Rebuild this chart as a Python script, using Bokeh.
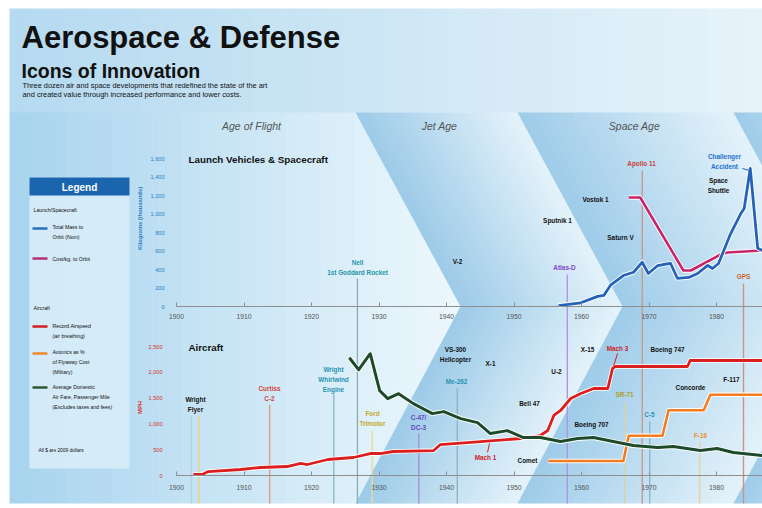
import numpy as np
from bokeh.plotting import figure
from bokeh.models import Range1d, LinearAxis, FixedTicker, NumeralTickFormatter
from bokeh.core.properties import value
from bokeh.embed import file_html
from bokeh.resources import INLINE

# ===================== DATA =====================
decade_ticks = [1900, 1910, 1920, 1930, 1940, 1950, 1960, 1970, 1980]
kg_ticks = [0, 200, 400, 600, 800, 1000, 1200, 1400, 1600]
mph_ticks = [0, 500, 1000, 1500, 2000, 2500]

# Launch vehicles & spacecraft (kilograms, thousands)
mass_years = [1956.6, 1959.9, 1962.4, 1963.3, 1964.3, 1966.2, 1967.7, 1969.0, 1969.9,
              1971.3, 1972.1, 1973.2, 1974.2, 1975.9, 1977.2, 1978.7, 1979.4, 1980.3,
              1982.1, 1983.6, 1984.1, 1985.0, 1986.1, 1986.8]
mass_kg = [10, 40, 110, 120, 230, 335, 370, 478, 357,
           443, 454, 465, 305, 314, 357, 445, 411, 465,
           789, 1005, 1059, 1492, 630, 605]
cost_years = [1967.0, 1968.7, 1975.1, 1976.2, 1980.6, 1981.6, 1986.8]
cost_kg = [1178, 1178, 389, 389, 562, 584, 605]

# Aircraft (MPH axis)
speed_years = [1902.5, 1903.9, 1904.7, 1909.5, 1912.4, 1916.4, 1918.4, 1919.4, 1922.4,
               1926.2, 1928.7, 1930.2, 1932.1, 1938.1, 1939.1, 1943.6, 1951.0, 1953.9,
               1955.0, 1955.9, 1956.9, 1958.4, 1959.9, 1961.8, 1963.9, 1964.6, 1965.0,
               1975.7, 1976.1, 1986.8]
speed_mph = [20, 25, 77, 116, 155, 174, 233, 213, 310,
             349, 426, 426, 465, 484, 600, 640, 717, 775,
             872, 1163, 1260, 1492, 1589, 1686, 1686, 2074, 2112,
             2112, 2229, 2229]
fare_years = [1925.6, 1927.0, 1928.7, 1930.1, 1931.3, 1932.9, 1935.1, 1937.9, 1939.6,
              1942.1, 1944.6, 1946.5, 1949.0, 1951.4, 1953.9, 1956.9, 1959.4, 1961.8,
              1964.7, 1967.7, 1971.3, 1973.6, 1977.6, 1980.1, 1982.5, 1986.8]
fare_vals = [2282, 2050, 2360, 1644, 1490, 1586, 1393, 1199, 1238,
             1103, 1025, 812, 870, 735, 735, 658, 716, 735,
             658, 580, 542, 561, 484, 522, 445, 387]
avionics_years = [1955.1, 1966.2, 1967.0, 1972.0, 1972.9, 1978.1, 1979.1, 1986.8]
avionics_vals = [280, 280, 770, 770, 1265, 1265, 1565, 1565]

# Milestones with a marker line
space_events = ["Nell\n1st Goddard Rocket", "Atlas-D", "Apollo 11", "GPS"]
space_event_years = [1926.8, 1957.9, 1969.0, 1984.0]
air_events = ["Wright\nFlyer", "", "Curtiss\nC-2", "Wright\nWhirlwind\nEngine", "Ford\nTrimotor",
              "C-47/\nDC-3", "Me-262", "SR-71", "C-5", "F-16"]
air_event_years = [1903.3, 1902.2, 1913.8, 1923.3, 1929.0, 1935.9, 1941.6, 1966.4, 1970.1, 1977.5]

# Milestones shown as labels only
space_notes = ["V-2", "Sputnik 1", "Vostok 1", "Saturn V", "Space\nShuttle", "Challenger\nAccident"]
air_notes = ["VS-300\nHelicopter", "X-1", "Bell 47", "U-2", "X-15", "Mach 3", "Boeing 747",
             "Boeing 707", "Mach 1", "Comet", "Concorde", "F-117"]

eras = ["Age of Flight", "Jet Age", "Space Age"]

# ===================== LAYOUT / STYLE =====================
FONT_NAME = "Liberation Sans"
FONT = value(FONT_NAME)
W, H = 762, 504
L, R, T, B = 0, W, 0, H                  # frame in page pixels
CL, CT, CB = 9, 8, 503                   # picture content edges
X1900, PX_PER_YEAR = 176.0, 6.75
Y_KG0, KG_PER_PX = 306.0, 1600 / 148.0
Y_MPH0, MPH_PER_PX = 475.0, 2500 / 129.0
LBL = "6.4px"


def yr(px):
    return 1900 + (px - X1900) / PX_PER_YEAR


p = figure(width=W, height=H, x_range=Range1d(yr(L), yr(R)), y_range=Range1d(B, T),
           x_axis_type=None, y_axis_type=None, toolbar_location=None,
           output_backend="svg", min_border=0, outline_line_color=None,
           background_fill_color="white", border_fill_color="white")
p.extra_x_ranges = {"sx": Range1d(L, R)}
p.extra_y_ranges = {
    "kg": Range1d((Y_KG0 - B) * KG_PER_PX, (Y_KG0 - T) * KG_PER_PX),
    "mph": Range1d((Y_MPH0 - B) * MPH_PER_PX, (Y_MPH0 - T) * MPH_PER_PX),
}


def hexlerp(c1, c2, t):
    a = [int(c1[i:i + 2], 16) for i in (1, 3, 5)]
    b = [int(c2[i:i + 2], 16) for i in (1, 3, 5)]
    return "#%02x%02x%02x" % tuple(int(round(a[k] + (b[k] - a[k]) * t)) for k in range(3))


# ---- background: title zone gradient ----
n = 40
edges = np.linspace(CL, R, n + 1)
cols = [hexlerp("#b6daf0", "#e6f3fa", i / (n - 1)) for i in range(n)]
p.quad(left=edges[:-1], right=edges[1:] + 0.5, top=CT, bottom=113, x_range_name="sx",
       fill_color=cols, line_color=None)

# ---- Age of Flight band ----
edges = np.linspace(CL, 470, n + 1)
cols = [hexlerp("#a8d4ee", "#eef8fd", i / (n - 1)) for i in range(n)]
p.quad(left=edges[:-1], right=edges[1:] + 0.5, top=112, bottom=CB, x_range_name="sx",
       fill_color=cols, line_color=None)

# ---- chevron bands ----
YT, YA, YB, D = 112, 306, CB, 105


def band(t0, t1, c0, c1, m=28):
    xs, ys, cs = [], [], []
    ed = np.linspace(t0, t1, m + 1)
    for k in range(m):
        a, b = ed[k], ed[k + 1] + 0.6
        xs.append([a, a + D, a, b, b + D, b])
        ys.append([YT, YA, YB, YB, YA, YT])
        cs.append(hexlerp(c0, c1, k / (m - 1)))
    p.patches(xs, ys, x_range_name="sx", fill_color=cs, line_color=None)


band(355, 517, "#9dcbe8", "#e3f2fa")
band(517, 733, "#9fcce9", "#e3f2fa")
band(733, 900, "#9fcce9", "#e3f2fa")

# ---- legend box ----
p.quad(left=29, right=129, top=177, bottom=468, x_range_name="sx",
       fill_color="#d8ecf8", fill_alpha=0.9, line_color=None)
p.quad(left=29, right=129, top=177, bottom=195, x_range_name="sx",
       fill_color="#1b64ae", line_color=None)


def txt(x, y, s, size, color="#111111", style="bold", align="center", baseline="middle",
        angle=0.0, lh=1.2, xr="sx"):
    p.text(x=x, y=y, text=s, x_range_name=xr, text_font=FONT, text_font_size=size,
           text_font_style=style, text_color=color, text_align=align,
           text_baseline=baseline, angle=angle, text_line_height=lh)


# ---- marker lines (years through the x scale) ----
space_line_tops = [278, 274, 170, 283]
space_line_cols = ["#86b3bb", "#b394e0", "#c79a8f", "#c99585"]
p.segment(x0=space_event_years, y0=space_line_tops, x1=space_event_years,
          y1=[YB] * len(space_event_years), line_color=space_line_cols, line_width=1.4)
air_line_tops = [415, 415, 404, 394, 430, 433, 388, 401, 421, 442]
air_line_cols = ["#ecd27a", "#b9d0e0", "#e59a8c", "#8db7c6", "#e9dc97", "#a98fd6",
                 "#8fb4bd", "#d9d2a2", "#8ab7c7", "#ead0a0"]
p.segment(x0=air_event_years, y0=air_line_tops, x1=air_event_years,
          y1=[YB] * len(air_event_years), line_color=air_line_cols, line_width=1.4)

# ---- axes ----
for loc, stand in ((Y_KG0, 7), (Y_MPH0, 9)):
    ax = LinearAxis(fixed_location=loc, ticker=FixedTicker(ticks=decade_ticks),
                    bounds=(1900, yr(R)), axis_line_color="#8f8f8f", axis_line_width=1.2,
                    major_tick_line_color="#8f8f8f", major_tick_in=4, major_tick_out=0,
                    minor_tick_line_color=None, major_label_text_font=FONT_NAME,
                    major_label_text_font_size="6.8px", major_label_text_color="#555555",
                    major_label_standoff=stand)
    p.add_layout(ax, "below")

ay1 = LinearAxis(y_range_name="kg", fixed_location=yr(172), ticker=FixedTicker(ticks=kg_ticks),
                 bounds=(0, 1600), formatter=NumeralTickFormatter(format="0,0"),
                 axis_line_color=None, major_tick_line_color=None, minor_tick_line_color=None,
                 major_label_text_font=FONT_NAME, major_label_text_font_size="5.6px",
                 major_label_text_color="#2b7bc4", major_label_standoff=2)
p.add_layout(ay1, "left")
ay2 = LinearAxis(y_range_name="mph", fixed_location=yr(170), ticker=FixedTicker(ticks=mph_ticks),
                 bounds=(0, 2500), formatter=NumeralTickFormatter(format="0,0"),
                 axis_line_color=None, major_tick_line_color=None, minor_tick_line_color=None,
                 major_label_text_font=FONT_NAME, major_label_text_font_size="5.6px",
                 major_label_text_color="#d8332a", major_label_standoff=2)
p.add_layout(ay2, "left")


# ---- data lines ----
def series(xs, ys, color, width, yname):
    p.line(xs, ys, y_range_name=yname, line_color="white", line_width=width + 1.8,
           line_join="round")
    p.line(xs, ys, y_range_name=yname, line_color=color, line_width=width, line_join="round")


series(cost_years, cost_kg, "#c8246a", 2.6, "kg")
series(mass_years, mass_kg, "#2463b8", 2.8, "kg")
series(avionics_years, avionics_vals, "#f47b20", 2.6, "mph")
series(speed_years, speed_mph, "#d9201e", 2.8, "mph")
series(fare_years, fare_vals, "#1d4a2a", 3.0, "mph")

# leaders
p.segment(x0=[617, 487, 742], y0=[353, 452, 168], x1=[613, 489, 749], y1=[366, 443, 170],
          x_range_name="sx", line_color=["#d9201e", "#d9201e", "#2463b8"], line_width=1.0)

# ---- titles ----
txt([21], [37], ["Aerospace & Defense"], "31px", align="left")
txt([21], [70], ["Icons of Innovation"], "19.5px", align="left")
txt([22], [89.5], ["Three dozen air and space developments that redefined the state of the art\n"
                   "and created value through increased performance and lower costs."],
    "7.4px", style="normal", align="left", baseline="middle", lh=1.0)

txt([251, 439, 634], [125, 125, 125], eras, "10.5px", color="#555555", style="italic")
txt([188], [159], ["Launch Vehicles & Spacecraft"], "9.8px", align="left")
txt([188], [347], ["Aircraft"], "9.8px", align="left")
txt([139], [218], ["Kilograms (thousands)"], "5.8px", color="#2b7bc4", angle=np.pi / 2)
txt([139], [407], ["MPH"], "5.8px", color="#d8332a", angle=np.pi / 2)

# ---- legend texts ----
txt([79], [186.5], ["Legend"], "10px", color="white")
txt([33, 33], [209, 307], ["Launch/Spacecraft", "Aircraft"], "5.2px", style="normal",
    align="left")
p.segment(x0=[32] * 5, x1=[47] * 5, y0=[228, 258, 326, 353, 387], y1=[228, 258, 326, 353, 387],
          x_range_name="sx", line_width=2.6,
          line_color=["#2a6ebb", "#b3307a", "#d62020", "#f08a30", "#2c5a38"])
txt([52] * 5, [231.5, 258, 330.5, 361.5, 396.5],
    ["Total Mass to\nOrbit (Nom)", "Cost/kg. to Orbit", "Record Airspeed\n(air breathing)",
     "Avionics as %\nof Flyaway Cost\n(Military)",
     "Average Domestic\nAir Fare, Passenger Mile\n(Excludes taxes and fees)"],
    "5.2px", style="normal", align="left", lh=1.65)
txt([38], [450], ["All $ are 2009 dollars"], "4.8px", style="normal", align="left")

# ---- milestone labels ----
txt([357, 564, 641, 743], [267, 267, 163, 276], space_events, LBL,
    color=["#1f96a6", "#8446c8", "#c9453b", "#d0642e"], lh=1.4)
txt([457, 557, 595, 620, 718, 724], [261, 220, 199, 237, 185, 161], space_notes, LBL,
    color=["#111111"] * 5 + ["#1f6fcc"], lh=1.4)
txt([195, 269, 333, 372, 418, 456, 624, 649, 700],
    [404, 393, 379, 418, 422, 381, 394, 414, 435],
    [air_events[0]] + air_events[2:], LBL,
    color=["#111111", "#d2453a", "#2494b4", "#c2a92a", "#6b43c2", "#2494b4", "#ad9f25",
           "#2795b8", "#ef8f2e"], lh=1.4)
txt([455, 490, 529, 556, 587, 617, 667, 591, 485, 527, 690, 731],
    [354, 363, 403, 371, 349, 348, 349, 424, 457, 460, 387, 379], air_notes, LBL,
    color=["#111111"] * 5 + ["#d0202a", "#111111", "#111111", "#d0202a", "#111111",
                             "#111111", "#111111"], lh=1.3)

open("out.html", "w").write(file_html(p, INLINE))
